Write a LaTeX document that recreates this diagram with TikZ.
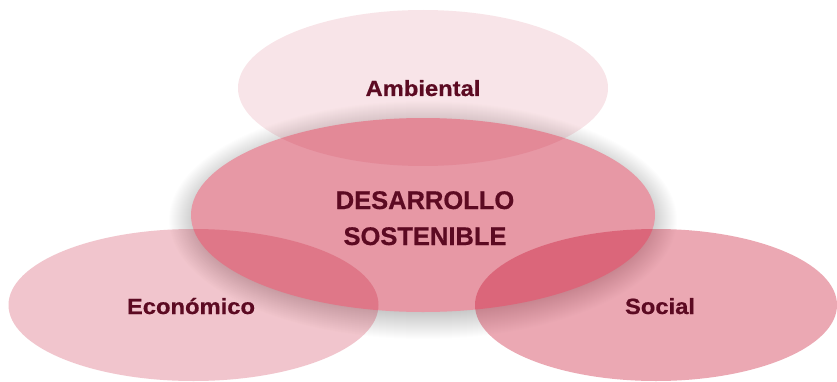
\documentclass[tikz,border=0pt]{standalone}
\usepackage{fontspec}
\setmainfont{Liberation Sans}
\newfontfamily\lblfont[FakeStretch=1.08,FakeBold=0.6]{Liberation Sans}
\newfontfamily\ctrfont[FakeBold=0.6]{Liberation Sans}
\usetikzlibrary{shapes.geometric}
\definecolor{base}{HTML}{C8102E}
\definecolor{txt}{HTML}{5C0A22}
\tikzset{
  blob/.style={ellipse, inner sep=0pt, draw=none},
  lbl/.style={anchor=base, text=txt, font=\lblfont\bfseries\fontsize{22}{26}\selectfont},
  ctr/.style={anchor=base, text=txt, font=\ctrfont\bfseries\fontsize{25.5}{30}\selectfont}
}
\begin{document}
\begin{tikzpicture}[x=1pt,y=1pt]
\useasboundingbox (0,0) rectangle (837,381);
\fill[white] (0,0) rectangle (837,381);
% soft shadow of the central ellipse
\foreach \i in {1,...,40}{
  \fill[black!80!red, opacity=0.0085] (423,161) ellipse ({214+\i} and {79+\i});
}
\node[blob, fill=base!43!white, minimum width=464, minimum height=194] (des) at (423,166) {};
\node[blob, fill=base, fill opacity=0.11, minimum width=370, minimum height=156] (amb) at (423,293) {};
\node[blob, fill=base, fill opacity=0.24, minimum width=370, minimum height=152] (eco) at (193.5,76) {};
\node[blob, fill=base, fill opacity=0.36, minimum width=362, minimum height=152] (soc) at (656,76) {};
\node[lbl] (tamb) at (423,285) {Ambiental};
\node[lbl] (teco) at (191,67) {Económico};
\node[lbl] (tsoc) at (660,67) {Social};
\node[ctr] (tdes1) at (425,172) {DESARROLLO};
\node[ctr] (tdes2) at (425,136) {SOSTENIBLE};
\end{tikzpicture}
\end{document}
